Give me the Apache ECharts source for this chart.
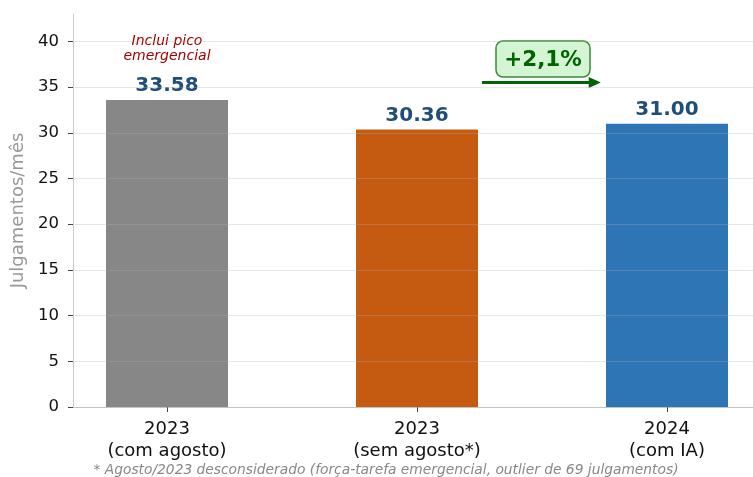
<!DOCTYPE html>
<html><head><meta charset="utf-8">
<script src="https://cdn.jsdelivr.net/npm/echarts@6/dist/echarts.min.js"></script>
<style>html,body{margin:0;padding:0;background:#fff;overflow:hidden;width:753px;height:477px}#c{width:761px;height:477px}</style>
</head><body><div id="c"></div>
<script>
const categories = ['2023\n(com agosto)', '2023\n(sem agosto*)', '2024\n(com IA)'];
const values = [33.58, 30.36, 31.00];
const barColors = ['#878787', '#c55a11', '#2e75b6'];
const yTicks = [0, 5, 10, 15, 20, 25, 30, 35, 40];
const annotationText = 'Inclui pico\nemergencial';
const growthText = '+2,1%';
const footnote = '* Agosto/2023 desconsiderado (força-tarefa emergencial, outlier de 69 julgamentos)';
const yName = 'Julgamentos/mês';

const FONT = '"DejaVu Sans", sans-serif';
const chart = echarts.init(document.getElementById('c'), null, {renderer: 'canvas'});
const option = {
  animation: false,
  backgroundColor: '#fff',
  grid: {left: 73, right: 0, top: 14, bottom: 70, containLabel: false},
  xAxis: {
    type: 'value', min: -0.376, max: 2.376,
    axisLine: {show: true, onZero: false, lineStyle: {color: '#cccccc', width: 1}},
    axisTick: {show: true, customValues: [0, 1, 2], length: 5, lineStyle: {color: '#444'}},
    axisLabel: {show: true, customValues: [0, 1, 2], formatter: v => categories[Math.round(v)],
      fontFamily: FONT, fontSize: 18, color: '#111', lineHeight: 22, margin: 11},
    splitLine: {show: false}
  },
  yAxis: {
    type: 'value', min: 0, max: 43, interval: 5, z: 5,
    name: yName, nameLocation: 'middle', nameGap: 45, nameRotate: 90,
    nameTextStyle: {fontFamily: FONT, fontSize: 18, color: '#999999'},
    axisLine: {show: true, onZero: false, lineStyle: {color: '#cccccc', width: 1}},
    axisTick: {show: true, customValues: yTicks, length: 5, lineStyle: {color: '#444'}},
    axisLabel: {customValues: yTicks, fontFamily: FONT, fontSize: 16.5, color: '#111', margin: 14},
    splitLine: {show: true, lineStyle: {color: 'rgba(176,176,176,0.3)', width: 1}}
  },
  series: [{
    type: 'bar',
    barWidth: 122,
    data: values.map((v, i) => ({value: [i, v], itemStyle: {color: barColors[i]}})),
    label: {show: true, position: 'top', distance: 4, formatter: p => p.value[1].toFixed(2),
      fontFamily: FONT, fontSize: 20, fontWeight: 'bold', color: '#1f4e79'}
  }]
};
chart.setOption(option);

const p0 = chart.convertToPixel({gridIndex: 0}, [0, values[0]]);
const pA = chart.convertToPixel({gridIndex: 0}, [1.26, 0]);
const pB = chart.convertToPixel({gridIndex: 0}, [1.735, 0]);
const arrowY = chart.convertToPixel({gridIndex: 0}, [0, 35.5])[1];
chart.setOption({
  graphic: [
    {type: 'text', x: p0[0], y: 48.5, style: {text: annotationText, fontFamily: FONT, fontSize: 14,
      fontStyle: 'italic', fill: '#a50000', align: 'center', verticalAlign: 'middle', lineHeight: 15}},
    {type: 'line', shape: {x1: pA[0], y1: arrowY, x2: pB[0] - 8, y2: arrowY},
      style: {stroke: '#006400', lineWidth: 3}},
    {type: 'polygon', shape: {points: [[pB[0], arrowY], [pB[0] - 12, arrowY - 5.5], [pB[0] - 12, arrowY + 5.5]]},
      style: {fill: '#006400'}},
    {type: 'rect', shape: {x: 496, y: 41, width: 94, height: 36, r: 7},
      style: {fill: '#d3f5d3', stroke: '#3a8a3a', lineWidth: 1.5}},
    {type: 'text', x: 543, y: 60, style: {text: growthText, fontFamily: FONT, fontSize: 21.5,
      fontWeight: 'bold', fill: '#006400', align: 'center', verticalAlign: 'middle'}},
    {type: 'text', x: 386, y: 470, style: {text: footnote, fontFamily: FONT, fontSize: 13.8,
      fontStyle: 'italic', fill: '#888888', align: 'center', verticalAlign: 'middle'}}
  ]
});
</script></body></html>
